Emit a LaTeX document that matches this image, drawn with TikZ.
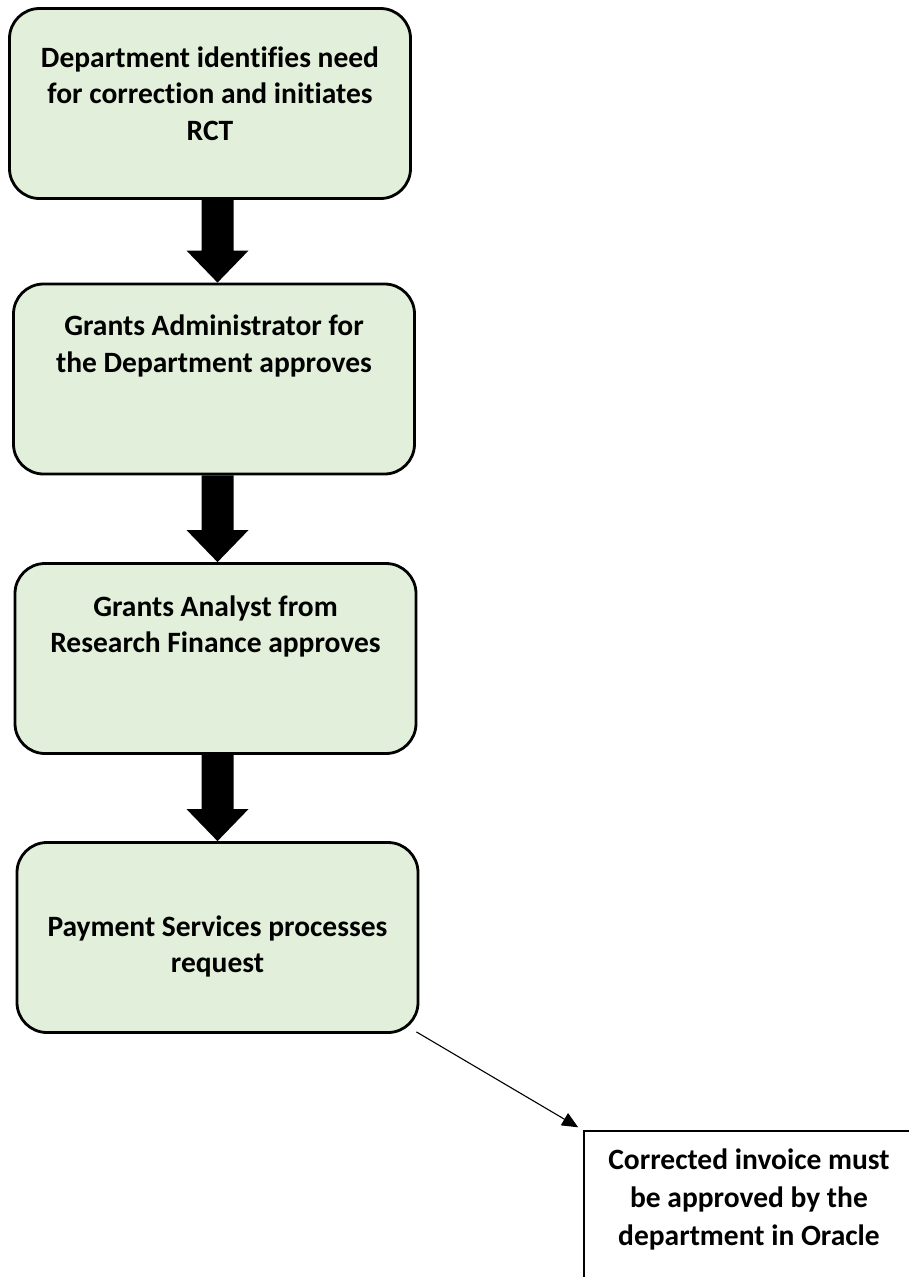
\documentclass[tikz,border=0pt]{standalone}
\usepackage{fontspec}
\setmainfont{Carlito}[Ligatures={NoCommon}]
\usetikzlibrary{arrows.meta,calc}
\definecolor{stepgreen}{HTML}{E2EFDA}
\newcommand{\steptext}[2][52pt]{\begin{minipage}[c][189pt][t]{384pt}\centering\rule{0pt}{#1}#2\end{minipage}}
\newcommand{\notetext}[1]{\begin{minipage}[c][259pt][t]{320pt}\centering\rule{0pt}{38pt}#1\end{minipage}}

\begin{document}
\begin{tikzpicture}[x=1pt,y=-1pt,
    stepbox/.style={draw,line width=2.8pt,rounded corners=30pt,fill=stepgreen,
      inner sep=0pt,minimum width=401pt,minimum height=190pt,
      font=\fontsize{29.5}{36.5}\selectfont\bfseries},
    notebox/.style={draw,line width=1.3pt,inner sep=0pt,minimum width=330pt,
      minimum height=260pt,font=\fontsize{29.5}{38}\selectfont\bfseries}]
  \useasboundingbox (0,0) rectangle (909,1277);
  \clip (0,0) rectangle (909,1277);

  % the four steps
  \node[stepbox] (dept) at (210,103.5) {\steptext[58pt]{Department identifies need\\for correction and initiates\\RCT}};
  \node[stepbox] (admin) at (214,379) {\steptext[51pt]{Grants Administrator for\\the Department approves}};
  \node[stepbox] (analyst) at (215.5,658.5) {\steptext[52pt]{Grants Analyst from\\Research Finance approves}};
  \node[stepbox] (pay) at (217.5,937.5) {\steptext[93pt]{Payment Services processes\\request}};
  \node[notebox] (note) at (749,1261) {\notetext{Corrected invoice must\\be approved by the\\department in Oracle}};

  % block arrows
  \foreach \a/\b in {dept/admin,admin/analyst,analyst/pay}
    \fill ($(\a.south -| pay.north)+(-16,0)$) -- ($(\a.south -| pay.north)+(16,0)$)
      -- ($(\b.north -| pay.north)+(16,-32)$) -- ($(\b.north -| pay.north)+(31,-32)$)
      -- (\b.north -| pay.north)
      -- ($(\b.north -| pay.north)+(-31,-32)$) -- ($(\b.north -| pay.north)+(-16,-32)$) -- cycle;

  \draw[line width=1.1pt,-{Triangle[length=16pt,width=14pt]},shorten >=6pt]
    ($(pay.south east)+(-3,-2)$) -- (note.north west);
\end{tikzpicture}
\end{document}
